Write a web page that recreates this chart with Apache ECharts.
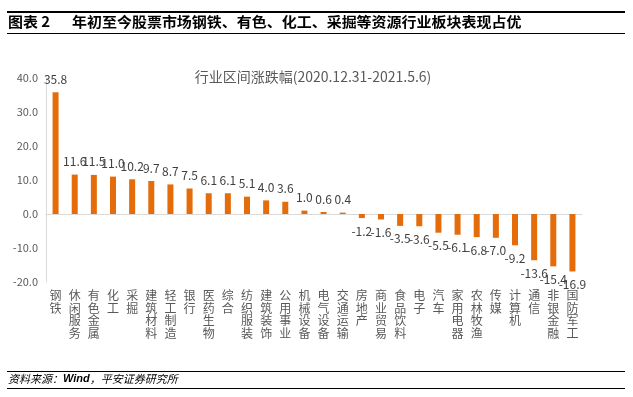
<!DOCTYPE html>
<html lang="zh">
<head>
<meta charset="UTF-8">
<title>行业区间涨跌幅</title>
<style>
  html, body { margin: 0; padding: 0; background: #fff; }
  #root { width: 633px; height: 397px; }
</style>
</head>
<body>
<div id="root"></div>
<script src="https://cdn.jsdelivr.net/npm/echarts@6/dist/echarts.min.js"></script>
<script>
var categories = ['钢铁', '休闲服务', '有色金属', '化工', '采掘', '建筑材料', '轻工制造', '银行', '医药生物', '综合',
  '纺织服装', '建筑装饰', '公用事业', '机械设备', '电气设备', '交通运输', '房地产', '商业贸易', '食品饮料', '电子',
  '汽车', '家用电器', '农林牧渔', '传媒', '计算机', '通信', '非银金融', '国防军工'];
var changes = [35.8, 11.6, 11.5, 11.0, 10.2, 9.7, 8.7, 7.5, 6.1, 6.1,
  5.1, 4.0, 3.6, 1.0, 0.6, 0.4, -1.2, -1.6, -3.5, -3.6,
  -5.5, -6.1, -6.8, -7.0, -9.2, -13.6, -15.4, -16.9];
var yTicks = { min: -20, max: 40, step: 10 };

var font = '"Noto Sans CJK SC", "Noto Sans", sans-serif';
var barColor = '#e46c0a';

var chart = echarts.init(document.getElementById('root'), null, { renderer: 'canvas' });

// label sits above positive bars and below negative ones
var barData = changes.map(function (v) {
  return {
    value: v,
    label: { position: v >= 0 ? 'top' : 'bottom' }
  };
});

var option = {
  animation: false,
  textStyle: { fontFamily: font },
  title: {
    text: '行业区间涨跌幅(2020.12.31-2021.5.6)',
    left: 308,
    top: 65,
    textAlign: 'center',
    textStyle: { fontSize: 14, fontWeight: 'normal', color: '#595959', fontFamily: font }
  },
  grid: { left: 46, right: 51, top: 78, bottom: 115, containLabel: false },
  xAxis: [
    {
      type: 'category',
      data: categories,
      position: 'bottom',
      axisLine: { show: false, onZero: false },
      axisTick: { show: false },
      axisLabel: {
        interval: 0,
        margin: 7,
        fontSize: 12,
        lineHeight: 12.7,
        color: '#595959',
        verticalAlign: 'top',
        formatter: function (s) { return s.split('').join('\n'); }
      }
    },
    {
      type: 'category',
      data: categories,
      position: 'bottom',
      axisLine: { show: true, onZero: true, lineStyle: { color: '#d9d9d9', width: 1 } },
      axisTick: { show: false },
      axisLabel: { show: false }
    }
  ],
  yAxis: {
    type: 'value',
    min: yTicks.min,
    max: yTicks.max,
    interval: yTicks.step,
    axisLine: { show: true, lineStyle: { color: '#d9d9d9' } },
    axisTick: { show: false },
    splitLine: { show: false },
    axisLabel: {
      margin: 8,
      fontSize: 11,
      color: '#595959',
      formatter: function (v) { return v.toFixed(1); }
    }
  },
  series: [{
    type: 'bar',
    xAxisIndex: 0,
    data: barData,
    barWidth: 6,
    itemStyle: { color: barColor },
    label: {
      show: true,
      distance: 7,
      fontSize: 12,
      color: '#404040',
      formatter: function (p) { return p.value.toFixed(1); }
    }
  }],
  graphic: [
    { type: 'rect', shape: { x: 7, y: 11, width: 618, height: 2 }, style: { fill: '#000' } },
    { type: 'text', x: 8, y: 15, scaleX: 1.07, style: { text: '图表 2', font: 'bold 14px ' + font, fill: '#000' } },
    { type: 'text', x: 72, y: 15, scaleX: 1.07, style: { text: '年初至今股票市场钢铁、有色、化工、采掘等资源行业板块表现占优', font: 'bold 14px ' + font, fill: '#000' } },
    { type: 'rect', shape: { x: 7, y: 33, width: 618, height: 1 }, style: { fill: '#000' } },
    { type: 'rect', shape: { x: 7, y: 371, width: 618, height: 1 }, style: { fill: '#000' } },
    {
      type: 'text', x: 8, y: 373,
      style: {
        text: '{i|资料来源：}{b|Wind}{i|，平安证券研究所}',
        rich: {
          i: { font: 'italic 11px ' + font, fill: '#000' },
          b: { font: 'italic bold 11px "Liberation Sans", sans-serif', fill: '#000' }
        }
      }
    },
    { type: 'rect', shape: { x: 7, y: 388, width: 618, height: 1 }, style: { fill: '#000' } }
  ]
};

chart.setOption(option);
</script>
</body>
</html>
